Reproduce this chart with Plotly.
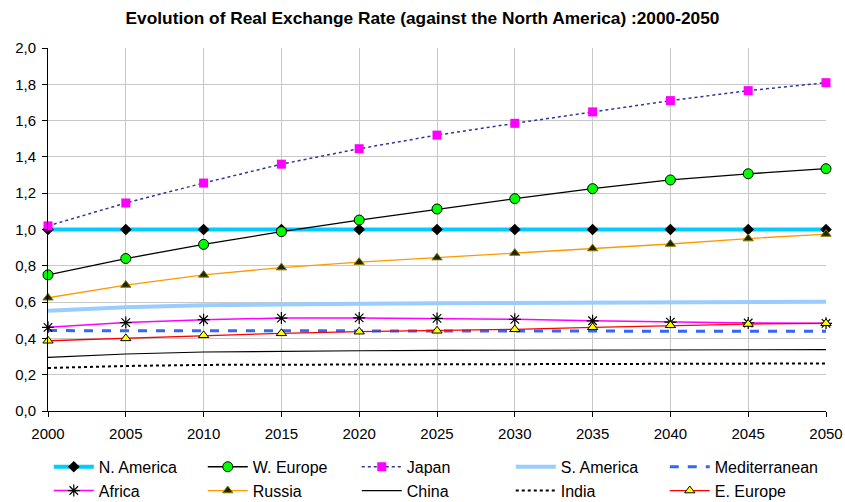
import plotly.graph_objects as go

years = [2000, 2005, 2010, 2015, 2020, 2025, 2030, 2035, 2040, 2045, 2050]

n_america = [1.0, 1.0, 1.0, 1.0, 1.0, 1.0, 1.0, 1.0, 1.0, 1.0, 1.0]
w_europe = [0.75, 0.84, 0.918, 0.988, 1.052, 1.113, 1.17, 1.225, 1.273, 1.307, 1.335]
japan = [1.02, 1.146, 1.256, 1.36, 1.445, 1.52, 1.585, 1.648, 1.71, 1.765, 1.809]
s_america = [0.552, 0.572, 0.582, 0.588, 0.591, 0.593, 0.595, 0.596, 0.598, 0.6, 0.602]
mediterranean = [0.443, 0.443, 0.443, 0.442, 0.442, 0.441, 0.441, 0.44, 0.44, 0.439, 0.439]
africa = [0.461, 0.487, 0.503, 0.512, 0.513, 0.51, 0.505, 0.497, 0.49, 0.485, 0.483]
russia = [0.624, 0.694, 0.75, 0.79, 0.82, 0.845, 0.87, 0.895, 0.92, 0.95, 0.975]
china = [0.296, 0.314, 0.325, 0.33, 0.332, 0.334, 0.335, 0.336, 0.337, 0.337, 0.338]
india = [0.237, 0.248, 0.254, 0.255, 0.255, 0.255, 0.255, 0.255, 0.256, 0.257, 0.262]
e_europe = [0.387, 0.4, 0.417, 0.428, 0.437, 0.442, 0.45, 0.461, 0.472, 0.479, 0.483]

y_ticks = [0.0, 0.2, 0.4, 0.6, 0.8, 1.0, 1.2, 1.4, 1.6, 1.8, 2.0]
y_tick_labels = ["0,0", "0,2", "0,4", "0,6", "0,8", "1,0", "1,2", "1,4", "1,6", "1,8", "2,0"]

fig = go.Figure()

def add(name, y, line, marker=None, mode="lines"):
    kw = dict(x=years, y=y, name=name, mode=mode, line=line, cliponaxis=False)
    if marker is not None:
        kw["marker"] = marker
    fig.add_trace(go.Scatter(**kw))

add("N. America", n_america, dict(color="#00CCFF", width=4),
    dict(symbol="diamond", size=9, color="black"), "lines+markers")
add("W. Europe", w_europe, dict(color="black", width=1.3),
    dict(symbol="circle", size=10, color="#00FF00", line=dict(color="black", width=1)), "lines+markers")
add("Japan", japan, dict(color="#333399", width=1.5, dash="dot"),
    dict(symbol="square", size=9, color="#FF00FF"), "lines+markers")
add("S. America", s_america, dict(color="#99CCFF", width=4))
add("Mediterranean", mediterranean, dict(color="#3366FF", width=3, dash="dash"))
add("Africa", africa, dict(color="#FF00FF", width=1.5),
    dict(symbol="asterisk-open", size=10, color="black", line=dict(color="black", width=1.2)), "lines+markers")
add("Russia", russia, dict(color="#FF9900", width=1.3),
    dict(symbol="triangle-up", size=9, color="#222200", line=dict(color="#808000", width=1)), "lines+markers")
add("China", china, dict(color="black", width=1.2))
add("India", india, dict(color="black", width=2, dash="dot"))
add("E. Europe", e_europe, dict(color="#FF0000", width=1.3),
    dict(symbol="triangle-up", size=9, color="#FFFF00", line=dict(color="black", width=1)), "lines+markers")

fig.update_layout(
    width=845, height=502,
    margin=dict(l=48, r=19, t=48, b=91, autoexpand=False),
    paper_bgcolor="white", plot_bgcolor="white",
    font=dict(family="Liberation Sans, Arial, sans-serif", size=15, color="black"),
    title=dict(text="<b>Evolution of Real Exchange Rate (against the North America) :2000-2050</b>",
               x=0.5, xanchor="center", y=0.964, yanchor="middle",
               font=dict(size=17.3, family="Liberation Sans, Arial, sans-serif")),
    showlegend=True,
    legend=dict(orientation="h", x=0.001, xanchor="left", y=-0.107, yanchor="top",
                entrywidth=99, entrywidthmode="pixels", traceorder="normal",
                font=dict(size=16), tracegroupgap=0, itemwidth=40, bgcolor="rgba(0,0,0,0)"),
)

fig.update_xaxes(range=[2000, 2050], tickvals=years, ticktext=[str(y) for y in years],
                 showgrid=True, gridcolor="#C8C8C8", gridwidth=1,
                 showline=True, linecolor="black", linewidth=1,
                 ticks="outside", ticklen=5, tickcolor="black", ticklabelstandoff=4,
                 tickfont=dict(size=15), zeroline=False, mirror=False)
fig.update_yaxes(range=[0, 2.0], tickvals=y_ticks, ticktext=y_tick_labels,
                 showgrid=True, gridcolor="#C8C8C8", gridwidth=1,
                 showline=True, linecolor="black", linewidth=1,
                 ticks="outside", ticklen=5, tickcolor="black", ticklabelstandoff=3,
                 tickfont=dict(size=15), zeroline=False)

fig.write_html("out.html", config={"displayModeBar": False},
               post_script="document.body.style.margin='0';document.body.style.overflow='hidden';")
